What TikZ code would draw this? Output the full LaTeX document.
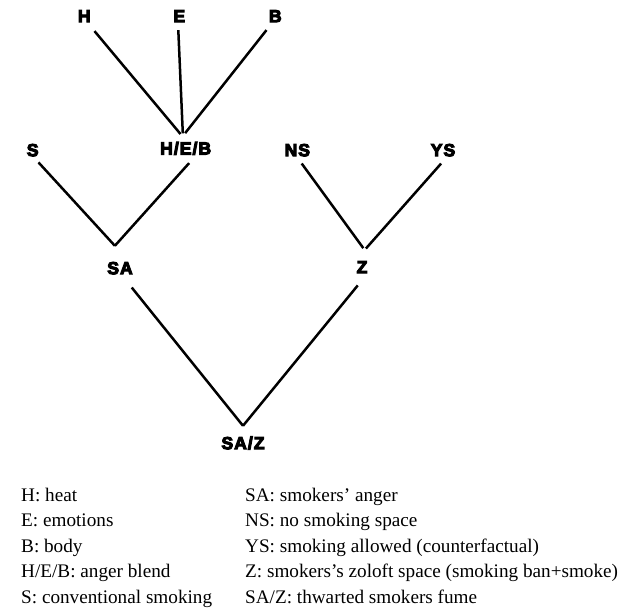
\documentclass[tikz,border=0pt]{standalone}
\usepackage{fontspec}
\setmainfont{Liberation Serif}
\newfontfamily\hubfont{Liberation Sans Bold}[FakeBold=6, LetterSpace=6]

\tikzset{
  % invisible round anchor around each label; its radius sets the gap to the lines
  hub/.style={circle, inner sep=0pt, minimum size=2*#1},
  hubtext/.style={font=\hubfont\fontsize{17.5}{17.5}\selectfont, inner sep=0pt,
                  text height=12.4pt, text depth=0pt},
  link/.style={line width=2.5pt, black},
  keyline/.style={font=\fontsize{19.2}{21}\selectfont, anchor=base west, inner sep=0pt},
}

\begin{document}
\begin{tikzpicture}[x=1pt, y=-1pt]
  \useasboundingbox (0,0) rectangle (626,609);

  % --- tree labels ---
  \node[hub=18pt,   label={[hubtext]center:H}]     (H)   at (84.3,16) {};
  \node[hub=14pt,   label={[hubtext]center:E}]     (E)   at (179.3,16) {};
  \node[hub=16.4pt, label={[hubtext]center:B}]     (B)   at (275.3,16) {};
  \node[hub=13.5pt, label={[hubtext]center:S}]     (S)   at (32.7,150) {};
  \node[hub=15pt,   label={[hubtext]center:H/E/B}] (HEB) at (185.7,148.3) {};
  \node[hub=14pt,   label={[hubtext]center:NS}]    (NS)  at (297.3,150) {};
  \node[hub=13.5pt, label={[hubtext]center:YS}]    (YS)  at (443,150) {};
  \node[hub=22.6pt, label={[hubtext]center:SA}]    (SA)  at (120,268) {};
  \node[hub=18.7pt, label={[hubtext]center:Z}]     (Z)   at (362,267) {};
  \node[hub=17pt,   label={[hubtext]center:SA/Z}]  (SAZ) at (243,443) {};

  % --- branches ---
  \draw[link] (H.-56)   -- (HEB.110);
  \draw[link] (E.-94)   -- (HEB.101);
  \draw[link] (B.-122)  -- (HEB.92);
  \draw[link] (S.-65)   -- (SA.103);
  \draw[link] (HEB.-77) -- (SA.103);
  \draw[link] (NS.-72)  -- (Z.86);
  \draw[link] (YS.-98)  -- (Z.78);
  \draw[link] (SA.-59)  -- (SAZ.north);
  \draw[link] (Z.-103)  -- (SAZ.north);

  % --- key ---
  \node[keyline] (kL1) at (21,501)   {H: heat};
  \node[keyline] (kL2) at (21,526.5) {E: emotions};
  \node[keyline] (kL3) at (21,552)   {B: body};
  \node[keyline] (kL4) at (21,577.5) {H/E/B: anger blend};
  \node[keyline] (kL5) at (21,603)   {S: conventional smoking};

  \node[keyline] (kR1) at (245,501)   {SA: smokers’ anger};
  \node[keyline] (kR2) at (245,526.5) {NS: no smoking space};
  \node[keyline] (kR3) at (245,552)   {YS: smoking allowed (counterfactual)};
  \node[keyline] (kR4) at (245,577.5) {Z: smokers’s zoloft space (smoking ban+smoke)};
  \node[keyline] (kR5) at (245,603)   {SA/Z: thwarted smokers fume};
\end{tikzpicture}
\end{document}
